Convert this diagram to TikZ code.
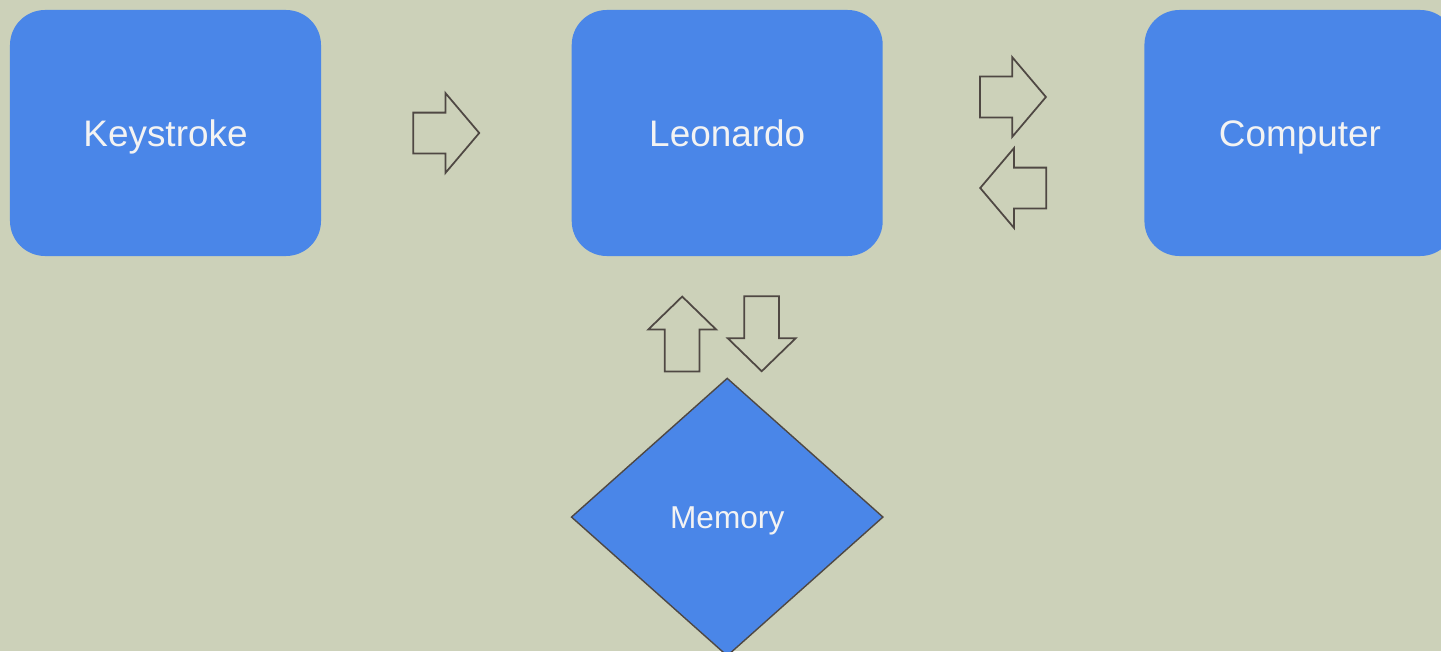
\documentclass[tikz,border=0pt]{standalone}
\usepackage{fontspec}
\setmainfont{Liberation Sans}
\usetikzlibrary{positioning, shapes.geometric, shapes.arrows}

\definecolor{bgcolor}{HTML}{CCD1B9}
\definecolor{boxblue}{HTML}{4A86E8}
\definecolor{linegray}{HTML}{4F4843}
\definecolor{labelwhite}{HTML}{F3F3F3}

\begin{document}
\begin{tikzpicture}[roundbox/.style={rectangle,rounded corners=0.7cm,fill=boxblue,text=labelwhite,minimum width=6.22cm,minimum height=4.92cm,inner sep=0pt,text height=15pt,text depth=0pt,font=\fontsize{21}{25}\selectfont},
		diamondnode/.style={diamond,draw=linegray,line width=0.8pt,fill=boxblue,text=labelwhite,minimum width=6.24cm,minimum height=5.56cm,inner sep=0pt,text height=12.9pt,text depth=0pt,font=\fontsize{18}{22}\selectfont},
		blockarrow/.style={single arrow,draw=linegray,line width=1pt,minimum width=1.56cm,minimum height=1.32cm,inner xsep=0pt,inner ysep=0.39cm,single arrow head extend=0.39cm,single arrow tip angle=99.5},
		uprightarrow/.style={blockarrow,minimum width=1.32cm,minimum height=1.5cm,inner xsep=0.33cm,inner ysep=0pt,single arrow head extend=0.33cm,single arrow tip angle=91.7}]
		\path[use as bounding box,fill=bgcolor] (0,0) rectangle (28.82,-13.02);

		\node[roundbox] at (3.31,-2.66)											(keystroke)	{Keystroke};
		\node[roundbox,node distance=5cm,right=of keystroke]					(leonardo)	{Leonardo};
		\node[roundbox,node distance=5.22cm,right=of leonardo]					(computer)	{Computer};
		\node[diamondnode,node distance=2.42cm,below=of leonardo]				(memory)	{Memory};

		\node[blockarrow,right=1.82cm of keystroke,anchor=tail]					(keyin)		{};
		\node[blockarrow,right=1.92cm of leonardo,yshift=0.72cm,anchor=tail]	(hostout)	{};
		\node[blockarrow,shape border rotate=180,right=1.92cm of leonardo,yshift=-1.1cm,anchor=tip]	(hostin)	{};
		\node[uprightarrow,shape border rotate=90,below=0.78cm of leonardo,xshift=-0.9cm,anchor=tip]	(memread)	{};
		\node[uprightarrow,shape border rotate=270,below=0.78cm of leonardo,xshift=0.69cm,anchor=tail]	(memwrite)	{};
	\end{tikzpicture}
\end{document}
